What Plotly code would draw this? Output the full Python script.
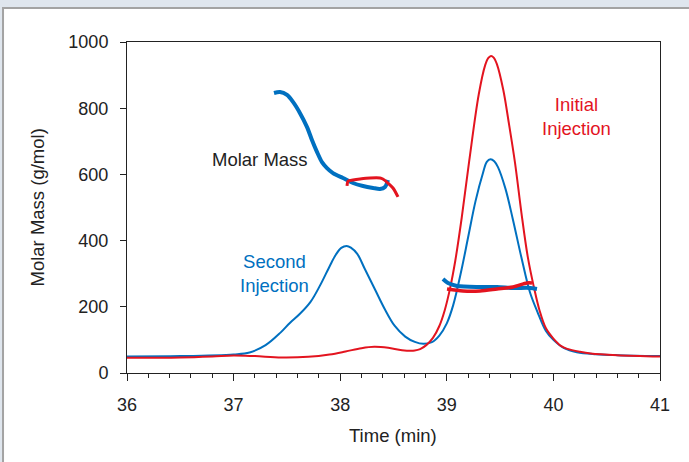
import plotly.graph_objects as go

# Axis tick labels
x_ticks = [36, 37, 38, 39, 40, 41]
y_ticks = [0, 200, 400, 600, 800, 1000]

# Chromatogram, second injection (detector trace, scaled to the molar-mass axis)
second_t = [36.0, 36.5, 37.0, 37.15, 37.3, 37.44, 37.53, 37.62, 37.72, 37.81, 37.9, 37.96,
            38.01, 38.06, 38.1, 38.16, 38.23, 38.33, 38.42, 38.51, 38.61, 38.7, 38.78,
            38.86, 38.93, 39.0, 39.06, 39.14, 39.2, 39.27, 39.34, 39.375, 39.41, 39.445,
            39.48, 39.55, 39.62, 39.7, 39.78, 39.85, 39.93, 40.0, 40.1, 40.22, 40.4, 40.6, 41.0]
second_v = [50, 51, 56, 62, 84, 122, 152, 178, 214, 264, 322, 358,
            378, 384, 379, 360, 315, 250, 192, 143, 110, 94, 88,
            93, 113, 150, 205, 315, 410, 520, 605, 638, 646, 640,
            622, 557, 464, 349, 244, 185, 127, 100, 75, 63, 57, 54, 51]

# Chromatogram, initial injection
initial_t = [36.0, 36.5, 36.8, 37.0, 37.2, 37.45, 37.7, 37.9, 38.05, 38.2, 38.32, 38.45,
             38.58, 38.7, 38.75, 38.81, 38.87, 38.93, 38.98, 39.03, 39.08, 39.14, 39.21,
             39.3, 39.36, 39.39, 39.415, 39.44, 39.47, 39.53, 39.58, 39.64, 39.7, 39.76,
             39.82, 39.87, 39.93, 40.0, 40.07, 40.13, 40.25, 40.35, 40.6, 41.0]
initial_v = [46, 47, 50, 53, 51, 47, 49, 56, 65, 75, 79, 76,
             69, 68, 72, 85, 106, 142, 189, 255, 340, 469, 640,
             842, 930, 952, 958, 953, 933, 855, 759, 635, 484, 350,
             255, 189, 135, 104, 82, 73, 64, 59, 54, 50]

# Molar mass across the early (aggregate) peak
mm_second_a_t = [37.379, 37.435, 37.501, 37.557, 37.623, 37.689, 37.735, 37.782, 37.829,
                 37.876, 37.932, 38.026, 38.12, 38.214, 38.308, 38.373, 38.42, 38.448]
mm_second_a_v = [846, 849, 840, 819, 785, 743, 704, 668, 637,
                 619, 604, 589, 574, 565, 559, 556, 562, 583]
mm_initial_a_t = [38.064, 38.075, 38.12, 38.186, 38.28, 38.373, 38.40, 38.448, 38.495, 38.542]
mm_initial_a_v = [565, 580, 583, 586, 589, 589, 586, 574, 559, 532]

# Molar mass across the main peak
mm_second_b_t = [38.964, 39.011, 39.096, 39.311, 39.471, 39.621, 39.78, 39.846]
mm_second_b_v = [284, 272, 263, 260, 260, 257, 257, 254]
mm_initial_b_t = [39.002, 39.152, 39.311, 39.471, 39.621, 39.752, 39.799]
mm_initial_b_v = [254, 248, 248, 254, 260, 272, 272]

BLUE = "#0070c0"
RED = "#e3141f"
TEXT = "#222222"
FONT = "Liberation Sans, Arial, sans-serif"

fig = go.Figure()


def add_line(x, y, color, width, smoothing=1.0):
    fig.add_trace(go.Scatter(x=x, y=y, mode="lines",
                             line=dict(color=color, width=width, shape="spline", smoothing=smoothing),
                             hoverinfo="skip"))


add_line(second_t, second_v, BLUE, 2)
add_line(initial_t, initial_v, RED, 2)
add_line(mm_second_a_t, mm_second_a_v, BLUE, 4, 0.8)
add_line(mm_initial_a_t, mm_initial_a_v, RED, 3, 0.8)
add_line(mm_second_b_t, mm_second_b_v, BLUE, 4, 0.8)
add_line(mm_initial_b_t, mm_initial_b_v, RED, 3.5, 0.8)

# Page panel: white card with a grey edge on a pale blue-grey page
fig.add_shape(type="rect", xref="paper", yref="paper",
              x0=-0.2326, x1=1.12, y0=-0.40, y1=1.1027,
              fillcolor="white", line=dict(color="#a3a3a3", width=2), layer="below")

annotations = [
    dict(text="Molar Mass", x=37.25, y=644, xref="x", yref="y",
         font=dict(size=18.5, color=TEXT)),
    dict(text="Second<br>Injection", x=37.38, y=302, xref="x", yref="y",
         font=dict(size=18.5, color=BLUE)),
    dict(text="Initial<br>Injection", x=40.22, y=776, xref="x", yref="y",
         font=dict(size=18.5, color=RED)),
    dict(text="Time (min)", x=0.499, y=-0.19, xref="paper", yref="paper",
         font=dict(size=18.5, color=TEXT)),
    dict(text="Molar Mass (g/mol)", x=-0.167, y=0.5, xref="paper", yref="paper",
         textangle=-90, font=dict(size=18.5, color=TEXT)),
]
for a in annotations:
    a.update(showarrow=False, xanchor="center", yanchor="middle")

fig.update_layout(
    width=689, height=462,
    margin=dict(l=127, r=29, t=42, b=89),
    paper_bgcolor="#dfe6ee",
    plot_bgcolor="white",
    showlegend=False,
    font=dict(family=FONT, size=18, color=TEXT),
    annotations=annotations,
)

fig.update_xaxes(
    range=[36, 41], tickvals=x_ticks, ticktext=[str(v) for v in x_ticks],
    ticks="outside", ticklen=7, tickwidth=1, tickcolor=TEXT,
    showline=True, linecolor=TEXT, linewidth=1, mirror=True,
    showgrid=False, zeroline=False, ticklabelstandoff=8,
    minor=dict(tick0=36, dtick=0.2, ticks="outside", ticklen=4, tickcolor=TEXT, showgrid=False),
)
fig.update_yaxes(
    range=[0, 1000], tickvals=y_ticks, ticktext=[str(v) for v in y_ticks],
    ticks="outside", ticklen=6, tickwidth=1, tickcolor=TEXT,
    showline=True, linecolor=TEXT, linewidth=1, mirror=True,
    showgrid=False, zeroline=False, ticklabelstandoff=8,
)

fig.write_html("out.html")
